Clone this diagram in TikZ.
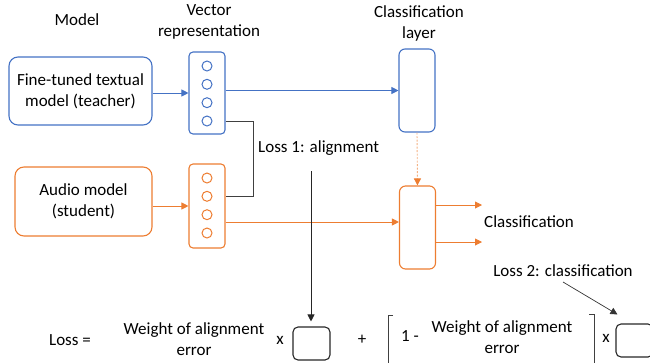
\documentclass[tikz,border=0pt]{standalone}
\usepackage{fontspec}
\setmainfont{Carlito}
\usetikzlibrary{arrows.meta,calc}
\definecolor{tblue}{HTML}{4472C4}
\definecolor{sorange}{HTML}{ED7D31}
\definecolor{lorange}{HTML}{F4B183}
\definecolor{dgray}{HTML}{404040}
\begin{document}
\begin{tikzpicture}[x=1pt,y=-1pt,
  font=\fontsize{17}{21}\selectfont,
  modelbox/.style={draw, rounded corners=9pt, line width=1.1pt, align=center, inner sep=0pt},
  vecbox/.style={draw, rounded corners=4pt, line width=1.1pt, minimum width=36pt, inner sep=0pt},
  clsbox/.style={draw, rounded corners=6pt, line width=1.1pt, minimum width=36pt, minimum height=83pt, inner sep=0pt},
  dot/.style={draw, circle, line width=1pt, minimum size=10pt, inner sep=0pt},
  lbl/.style={align=center, inner sep=0pt},
  smallbox/.style={draw=black!85, rounded corners=5pt, line width=1.1pt, minimum width=37pt, minimum height=33pt, inner sep=0pt},
  tip/.style={-{Triangle[length=7pt,width=7pt]}},
  conn/.style={line width=0.9pt}]
\useasboundingbox (0,0) rectangle (650,362);

% headers
\node[lbl] (hmodel) at (77,20) {Model};
\node[lbl] (hvec) at (209,21.5) {Vector\\representation};
\node[lbl] (hcls) at (419,23) {Classification\\layer};

% teacher
\node[modelbox, draw=tblue, minimum width=143pt, minimum height=68pt] (teacher) at (80.5,91) {Fine-tuned textual\\model (teacher)};
\node[vecbox, draw=tblue, minimum height=82pt] (tv) at (207,93) {};
\foreach \i/\y in {1/66,2/84.3,3/102.7,4/121}{
  \node[dot, draw=tblue] (tc\i) at (207,\y) {};
}
\node[clsbox, draw=tblue] (cl1) at (417,90.5) {};

% student
\node[modelbox, draw=sorange, minimum width=137pt, minimum height=69pt] (audio) at (83.5,201.5) {Audio model\\(student)};
\node[vecbox, draw=sorange, minimum height=84pt] (sv) at (207,206) {};
\foreach \i/\y in {1/178,2/196.3,3/214.7,4/233}{
  \node[dot, draw=sorange] (sc\i) at (207,\y) {};
}
\node[clsbox, draw=sorange] (cl2) at (417.5,227.5) {};

% blue connectors
\draw[conn, tip, tblue] (teacher.east |- tv.west) -- (tv.west);
\draw[conn, tip, tblue] (tv.east |- cl1.west) -- (cl1.west);

% orange connectors
\coordinate (oin) at (300,222);
\draw[conn, tip, sorange] (audio.east |- sv.west) -- (sv.west);
\draw[conn, tip, sorange] (sv.east |- oin) -- (cl2.west |- oin);
\draw[conn, lorange, dashed, dash pattern=on 2pt off 1.5pt, -{Triangle[length=7pt,width=7pt,color=sorange]}] (cl1.south) -- (cl2.north);
\coordinate (o1) at (482,205);
\coordinate (o2) at (482,242);
\draw[conn, tip, sorange] (cl2.east |- o1) -- (o1);
\draw[conn, tip, sorange] (cl2.east |- o2) -- (o2);
\node[lbl, anchor=west] (clsout) at (484,222) {Classification};

% alignment connector
\draw[conn, dgray, line width=0.8pt] (tv.east |- tc4) -- ++(28,0) |- (sv.east |- sc2);
\node[lbl, anchor=west] (loss1) at (258,148) {Loss 1: alignment};
\node[lbl] (loss2) at (563,271) {Loss 2: classification};

% formula
\node[lbl] (losseq) at (70,340) {Loss =};
\node[lbl] (w1) at (194,339) {\fontsize{17}{19.5}\selectfont Weight of alignment\\error};
\node[lbl] (x1) at (280,340) {x};
\node[smallbox] (b1) at (311.5,343.5) {};
\node[lbl] (plus) at (362,340) {+};
\node[lbl] (one) at (410,336) {1 -};
\node[lbl] (w2) at (502,337) {\fontsize{17}{19.5}\selectfont Weight of alignment\\error};
\node[lbl] (x2) at (606,338) {x};
\node[smallbox] (b2) at (634.5,340.5) {};
\draw[line width=0.7pt, black!75] (393,315) -- (388,315) -- (388,370);
\draw[line width=0.7pt, black!75] (589,314) -- (594,314) -- (594,370);

\coordinate (l1top) at (311,171);
\draw[line width=0.8pt, black!85, tip, shorten >=5pt] (l1top) -- (l1top |- b1.north);
\coordinate (l2start) at (563,282);
\draw[line width=0.7pt, black!80, tip] (l2start) -- ($(b2.north west)+(2,-9)$);
\end{tikzpicture}
\end{document}
